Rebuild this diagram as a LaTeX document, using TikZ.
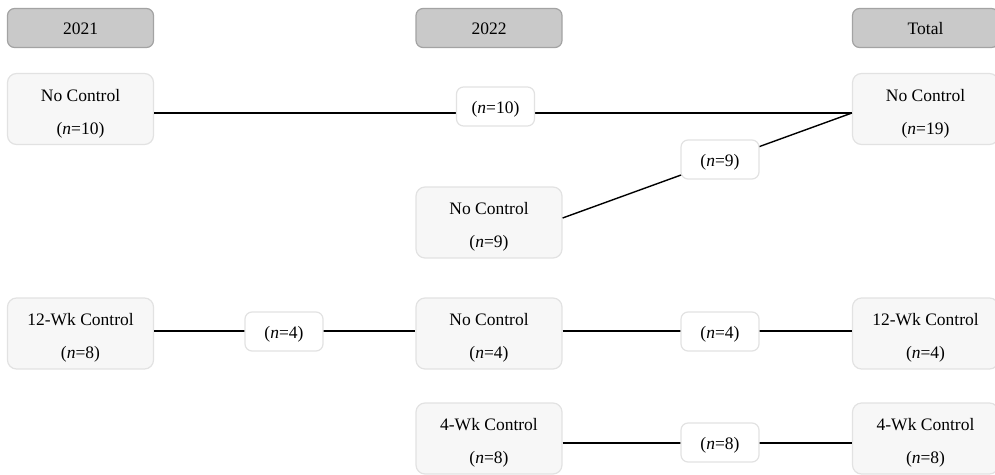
\documentclass[tikz,border=0pt]{standalone}
\usepackage{fontspec}
\setmainfont{Liberation Serif}
\definecolor{hdrfill}{HTML}{C9C9C9}
\definecolor{hdrdraw}{HTML}{A3A3A3}
\definecolor{boxfill}{HTML}{F7F7F7}
\definecolor{boxdraw}{HTML}{E2E2E2}
\tikzset{
  hdr/.style={draw=hdrdraw, fill=hdrfill, line width=1.2pt, rounded corners=7pt,
    minimum width=146pt, minimum height=39pt, inner sep=0pt,
    execute at begin node=\rule{0pt}{14pt}},
  grp/.style={draw=boxdraw, fill=boxfill, line width=1.2pt, rounded corners=9pt,
    minimum width=146pt, minimum height=71pt, inner sep=0pt, align=center},
  lbl/.style={draw=boxdraw, fill=white, line width=1.2pt, rounded corners=7pt,
    minimum width=78pt, minimum height=39pt, inner sep=0pt,
    execute at begin node=\rule{0pt}{17pt}},
  conn/.style={draw=black, line width=1.4pt}
}
\newcommand{\nn}[1]{(\textit{n}=#1)}
\newcommand{\grptext}[2]{\rule{0pt}{21pt}#1\\\nn{#2}}
\begin{document}
\begin{tikzpicture}[x=1pt,y=-1pt,font=\fontsize{17.5}{33}\selectfont]
\useasboundingbox (0,0) rectangle (995,474);
% headers
\node[hdr] (h1) at (80.5,28) {2021};
\node[hdr] (h2) at (489,28) {2022};
\node[hdr] (h3) at (925.5,28) {Total};
% group boxes
\node[grp] (a1) at (80.5,109) {\grptext{No Control}{10}};
\node[grp] (a3) at (80.5,333.5) {\grptext{12-Wk Control}{8}};
\node[grp] (b2) at (489,222.5) {\grptext{No Control}{9}};
\node[grp] (b3) at (489,333.5) {\grptext{No Control}{4}};
\node[grp] (b4) at (489,438.5) {\grptext{4-Wk Control}{8}};
\node[grp] (c1) at (925.5,109) {\grptext{No Control}{19}};
\node[grp] (c3) at (925.5,333.5) {\grptext{12-Wk Control}{4}};
\node[grp] (c4) at (925.5,438.5) {\grptext{4-Wk Control}{8}};
% connectors
\draw[conn] ([yshift=-4pt]a1.east) -- ([yshift=-4pt]c1.west);
\draw[conn] ([yshift=4.5pt]b2.east) -- ([yshift=-4pt]c1.west);
\draw[conn] ([yshift=2.5pt]a3.east) -- ([yshift=2.5pt]b3.west);
\draw[conn] ([yshift=2.5pt]b3.east) -- ([yshift=2.5pt]c3.west);
\draw[conn] ([yshift=-4.5pt]b4.east) -- ([yshift=-4.5pt]c4.west);
% labels
\node[lbl] (l1) at (495.5,106.5) {\nn{10}};
\node[lbl] (l2) at (720,159.5) {\nn{9}};
\node[lbl] (l3) at (284,331.5) {\nn{4}};
\node[lbl] (l4) at (720,331.5) {\nn{4}};
\node[lbl] (l5) at (720,442.5) {\nn{8}};
\end{tikzpicture}
\end{document}
